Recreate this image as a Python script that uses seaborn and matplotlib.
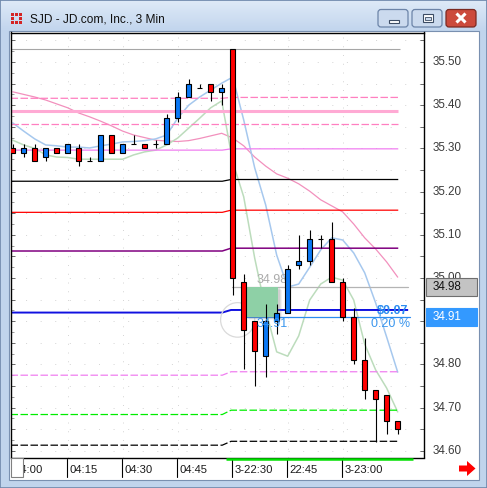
import numpy as np
import pandas as pd
import matplotlib
matplotlib.use("Agg")
import matplotlib.pyplot as plt
import matplotlib.transforms as mtransforms
from matplotlib.patches import Rectangle, FancyBboxPatch, Polygon, Ellipse
from matplotlib.colors import LinearSegmentedColormap
from matplotlib.ticker import MultipleLocator
import seaborn as sns

sns.set_theme(style="white")
plt.rcParams["font.family"] = ["Liberation Sans", "DejaVu Sans"]

# ---- 3-minute bars for S.JD ----
opens  = [35.30, 35.29, 35.30, 35.28, 35.30, 35.29, 35.30, 35.27, 35.27, 35.33, 35.29, 35.31,
          35.31, 35.31, 35.31, 35.37, 35.42, 35.44, 35.45, 35.43, 35.53, 34.99, 34.90, 34.82,
          34.90, 34.92, 35.03, 35.04, 35.09, 35.09, 34.99, 34.91, 34.81, 34.74, 34.73, 34.67]
highs  = [35.31, 35.31, 35.31, 35.30, 35.30, 35.31, 35.31, 35.28, 35.33, 35.33, 35.31, 35.33,
          35.31, 35.32, 35.38, 35.43, 35.46, 35.45, 35.45, 35.45, 35.53, 35.01, 34.90, 34.94,
          34.94, 35.03, 35.10, 35.11, 35.10, 35.13, 35.00, 34.93, 34.86, 34.74, 34.73, 34.67]
lows   = [35.29, 35.28, 35.27, 35.27, 35.29, 35.29, 35.26, 35.27, 35.27, 35.29, 35.29, 35.31,
          35.30, 35.30, 35.31, 35.36, 35.42, 35.44, 35.41, 35.40, 34.96, 34.79, 34.75, 34.77,
          34.87, 34.92, 35.02, 35.03, 35.07, 34.99, 34.90, 34.80, 34.72, 34.62, 34.64, 34.64]
closes = [35.29, 35.30, 35.27, 35.30, 35.29, 35.31, 35.27, 35.27, 35.33, 35.29, 35.31, 35.31,
          35.30, 35.31, 35.37, 35.42, 35.45, 35.44, 35.43, 35.44, 35.00, 34.88, 34.83, 34.90,
          34.92, 35.02, 35.04, 35.09, 35.09, 34.99, 34.91, 34.81, 34.74, 34.72, 34.67, 34.65]

# moving averages (fast / medium / slow)
ma_fast = [35.359, 35.340, 35.322, 35.308, 35.306, 35.303, 35.303, 35.301, 35.306, 35.310, 35.315, 35.316,
           35.318, 35.322, 35.331, 35.370, 35.400, 35.419, 35.435, 35.451, 35.465, 35.366, 35.255, 35.169,
           35.053, 34.979, 34.986, 35.025, 35.065, 35.093, 35.088, 35.058, 35.012, 34.942, 34.863, 34.782]
ma_mid  = [35.319, 35.308, 35.300, 35.285, 35.280, 35.279, 35.275, 35.275, 35.275, 35.275, 35.275, 35.285,
           35.292, 35.296, 35.308, 35.324, 35.347, 35.370, 35.394, 35.410, 35.269, 35.188, 35.046, 34.926,
           34.829, 34.819, 34.866, 34.949, 34.986, 35.002, 34.995, 34.949, 34.847, 34.787, 34.745, 34.690]
ma_slow = [35.431, 35.425, 35.419, 35.412, 35.403, 35.394, 35.382, 35.373, 35.363, 35.352, 35.340, 35.331,
           35.325, 35.319, 35.317, 35.316, 35.318, 35.323, 35.329, 35.335, 35.324, 35.306, 35.280, 35.259,
           35.241, 35.231, 35.218, 35.201, 35.181, 35.167, 35.153, 35.125, 35.093, 35.067, 35.037, 35.002]

# time axis
tick_bars   = [0, 5, 10, 15, 20, 25, 30]
tick_labels = ["04:00", "04:15", "04:30", "04:45", "3-22:30", "22:45", "3-23:00"]

# session levels: previous session value, current session value
level_prev = [35.530, 35.416, 35.387, 35.356, 35.296, 35.224, 35.152, 35.0625, 34.920, 34.775, 34.684, 34.613]
level_curr = [35.530, 35.418, 35.387, 35.356, 35.299, 35.228, 35.157, 35.069, 34.926, 34.783, 34.694, 34.622]
level_colors = ["#a6a6a6", "#ff7fc0", "#ffaad4", "#ff7fc0", "#f07ef0", "#000000",
                "#ff0000", "#800080", "#1010e0", "#f07ef0", "#00ee00", "#000000"]
level_styles = ["-", (0, (6, 2)), "-", (0, (6, 2)), "-", "-", "-", "-", "-",
                (0, (6, 2)), (0, (6, 2)), (0, (6, 2))]
level_widths = [0.8, 0.9, 2.2, 0.9, 0.9, 0.9, 0.9, 1.1, 1.4, 0.9, 0.9, 0.9]

# price labels on the right scale (34.90 sits under the last-price tag)
price_labels = [35.50, 35.40, 35.30, 35.20, 35.10, 35.00, 34.80, 34.70, 34.60]
last_price = 34.91
marker_price = 34.98
measure_from, measure_to = 34.98, 34.91

n = len(opens)
bars = pd.DataFrame({"bar": np.arange(n), "open": opens, "high": highs, "low": lows,
                     "close": closes, "fast": ma_fast, "mid": ma_mid, "slow": ma_slow})

W, H = 487, 488
fig = plt.figure(figsize=(W / 100, H / 100), dpi=100)

# ---- window chrome (pixel coordinates) ----
base = fig.add_axes([0, 0, 1, 1], zorder=0)
base.axis("off")
base.add_patch(Rectangle((0, 0), W, H, facecolor="#c0d4ec", edgecolor="#6f88aa", lw=1.2))
title_cmap = LinearSegmentedColormap.from_list("title", ["#dde9f7", "#c3d6ee"])
base.imshow(np.linspace(0, 1, 30)[:, None], extent=(1, W - 1, 30, 1), cmap=title_cmap,
            aspect="auto", zorder=1)
base.add_patch(Rectangle((8.5, 30.5), 470, 449, facecolor="white", edgecolor="#7990b0",
                         lw=0.8, zorder=2))
base.set_xlim(0, W)
base.set_ylim(H, 0)

# app icon
for (ix, iy) in [(11, 13), (15, 13), (19, 17), (11, 17), (15, 21), (19, 21), (11, 21), (19, 13)]:
    base.add_patch(Rectangle((ix, iy), 3.4, 3.4, facecolor="#d42424", edgecolor="none", zorder=3))
base.text(30, 19.5, "SJD - JD.com, Inc., 3 Min", fontsize=8.6, va="center", ha="left",
          color="#101010", zorder=3)

def caption_button(x0, x1, face, edge):
    base.add_patch(FancyBboxPatch((x0, 9.5), x1 - x0, 17.5,
                                  boxstyle="round,pad=0,rounding_size=3",
                                  facecolor=face, edgecolor=edge, lw=0.9, zorder=3))

caption_button(378, 408, "#cbdaee", "#6c84a8")
caption_button(412, 442, "#cbdaee", "#6c84a8")
caption_button(446, 476, "#cc4a3c", "#7c2a22")
base.add_patch(Rectangle((388.5, 19.5), 10, 3.2, facecolor="white", edgecolor="#3c4c64",
                         lw=0.8, zorder=4))
base.add_patch(Rectangle((422.5, 13.5), 10, 8.5, facecolor="white", edgecolor="#3c4c64",
                         lw=0.8, zorder=4))
base.add_patch(Rectangle((424.5, 16.5), 6, 3.5, facecolor="#cbdaee", edgecolor="#3c4c64",
                         lw=0.6, zorder=5))
base.plot([456.5, 465.5], [13.5, 22.5], color="white", lw=2.2, zorder=4, solid_capstyle="butt")
base.plot([456.5, 465.5], [22.5, 13.5], color="white", lw=2.2, zorder=4, solid_capstyle="butt")

# ---- price chart ----
px_per_bar = 11.0
x0_px = 12.7
plot_l, plot_r, plot_t, plot_b = 10.5, 424.0, 32.5, 457.5
ax = fig.add_axes([plot_l / W, (H - plot_b) / H, (plot_r - plot_l) / W, (plot_b - plot_t) / H],
                  zorder=2)
ax.set_facecolor("white")
ax.set_xlim((plot_l - x0_px) / px_per_bar, (plot_r - x0_px) / px_per_bar)
ax.set_ylim(34.5845, 35.5683)
for sp in ax.spines.values():
    sp.set_color("black")
    sp.set_linewidth(1.0)

ax.set_xticks([])
ax.yaxis.set_major_locator(MultipleLocator(0.05))
ax.yaxis.set_minor_locator(MultipleLocator(0.025))
ax.tick_params(axis="y", which="major", direction="in", length=3, width=0.6, color="#505050",
               left=True, right=True, labelleft=False, labelright=False)
ax.tick_params(axis="y", which="minor", direction="in", length=2, width=0.5, color="#707070",
               left=True, right=False)

# faint dotted grid
for g in np.arange(34.60, 35.56, 0.05):
    ax.axhline(g, color="#d4d4d4", lw=0.7, ls=(0, (1, 14)), zorder=0.5)
for b in [5, 10, 15, 25, 30]:
    ax.axvline(b, color="#d4d4d4", lw=0.7, ls=(0, (1, 8)), zorder=0.5)

# moving averages
sns.lineplot(data=bars, x="bar", y="slow", ax=ax, color="#f290bd", lw=0.9, zorder=1.5)
sns.lineplot(data=bars, x="bar", y="mid", ax=ax, color="#bcdcbc", lw=1.1, zorder=1.6)
sns.lineplot(data=bars, x="bar", y="fast", ax=ax, color="#a6c8ee", lw=1.1, zorder=1.7)
ax.set_xlabel("")
ax.set_ylabel("")

# session levels with a short step at the session change
x_left = ax.get_xlim()[0]
x_brk_a, x_brk_b, x_end = 19.05, 19.85, 35.05
for i, (lp, lc) in enumerate(zip(level_prev, level_curr)):
    end = x_end + (0.15 if i == 0 else 0.0)
    if level_colors[i] == "#1010e0":
        end = 35.95
    ax.plot([x_left, x_brk_a, x_brk_b, end], [lp, lp, lc, lc], color=level_colors[i],
            ls=level_styles[i], lw=level_widths[i], zorder=2, solid_capstyle="butt")

# measuring tool
ax.plot([19.9, 35.95], [marker_price, marker_price], color="#b4b4b4", lw=0.9, zorder=2.1)
ax.plot([21.0, 36.1], [measure_to, measure_to], color="#2b8cf0", lw=0.9, zorder=2.1)
ax.add_patch(Ellipse((20.45, 34.903), 3.1, 0.08, facecolor="none", edgecolor="#dadada",
                     lw=0.9, zorder=2.0))
sh_dx, sh_dy = 0.3, 0.008
for k, a in enumerate([0.10, 0.14, 0.18]):
    ax.add_patch(Rectangle((21.2 + sh_dx * (1 - k * 0.3), measure_to - sh_dy * (1 - k * 0.3)),
                           2.95, measure_from - measure_to, facecolor="#808080",
                           edgecolor="none", alpha=a, zorder=2.2))
ax.add_patch(Rectangle((21.2, measure_to), 2.95, measure_from - measure_to,
                       facecolor="#8ed0a6", edgecolor="none", zorder=2.3))
diff = measure_from - measure_to
ax.text(23.6, measure_from + 0.002, f"{measure_from:.2f}", color="#ababab", fontsize=9,
        ha="center", va="bottom", zorder=2.4)
ax.text(23.6, measure_to - 0.003, f"{measure_to:.2f}", color="#3a96ee", fontsize=9,
        ha="center", va="top", zorder=4.5)
ax.text(35.95, measure_to + 0.0135, f"\\${diff:.2f}", color="#2b8cf0", fontsize=9,
        fontweight="bold", ha="right", va="center", zorder=4.5)
ax.text(36.1, measure_to - 0.003, f"{diff / measure_from * 100:.2f} %", color="#3a96ee",
        fontsize=9, ha="right", va="top", zorder=4.5)

# candles
up = bars["close"] >= bars["open"]
ax.vlines(bars["bar"], bars["low"], bars["high"], color="black", lw=0.8, zorder=3)
body_lo = np.minimum(bars["open"], bars["close"])
body_h = (bars["close"] - bars["open"]).abs()
ax.bar(bars["bar"], body_h, bottom=body_lo, width=0.45,
       color=np.where(up, "#0a78f5", "#ff0000"), edgecolor="black", linewidth=0.8, zorder=3.5)

# right price scale
trans_p = mtransforms.blended_transform_factory(ax.transAxes, ax.transData)
ax_w_px = plot_r - plot_l
for p in price_labels:
    ax.text(1 + 8.5 / ax_w_px, p, f"{p:.2f}", transform=trans_p, fontsize=8.4,
            color="#3c3c3c", ha="left", va="center", zorder=5)

def price_tag(value, face, edge, txt):
    ax.add_patch(Rectangle((1 + 2.5 / ax_w_px, value - 0.0205), 51 / ax_w_px, 0.041,
                           transform=trans_p, facecolor=face, edgecolor=edge, lw=0.8,
                           clip_on=False, zorder=10))
    ax.text(1 + 8.5 / ax_w_px, value, f"{value:.2f}", transform=trans_p, fontsize=8.4,
            color=txt, ha="left", va="center", zorder=11)

price_tag(marker_price, "#c3c3c3", "#6e6e6e", "#111111")
price_tag(last_price, "#3399ff", "#3399ff", "white")

# time scale
trans_t = mtransforms.blended_transform_factory(ax.transData, ax.transAxes)
ax_h_px = plot_b - plot_t
def y_axes(ypx):
    return (plot_b - ypx) / ax_h_px

for b, lab in zip(tick_bars, tick_labels):
    ax.plot([b - 0.05, b - 0.05], [y_axes(459), y_axes(477)], transform=trans_t,
            color="black", lw=0.8, clip_on=False, zorder=5)
    ax.text(b + 0.15, y_axes(470), lab, transform=trans_t, fontsize=8.1, color="#1a1a1a",
            ha="left", va="center", zorder=5)

# current-session bar under the chart
ax.plot([19.39, 36.39], [y_axes(458.6), y_axes(458.6)], transform=trans_t, color="#00e000",
        lw=1.8, clip_on=False, zorder=6, solid_capstyle="butt")

# ---- overlay widgets ----
top = fig.add_axes([0, 0, 1, 1], zorder=5)
top.set_xlim(0, W)
top.set_ylim(H, 0)
top.axis("off")
top.patch.set_alpha(0)
top.add_patch(Rectangle((11, 458), 12, 19, facecolor="white", edgecolor="#808080", lw=0.8))
top.add_patch(Polygon([(459, 465.5), (467, 465.5), (467, 461), (475.5, 468.5), (467, 476),
                       (467, 471.5), (459, 471.5)], closed=True, facecolor="#ff0000",
                      edgecolor="none"))

fig.savefig("out.png", dpi=100)
